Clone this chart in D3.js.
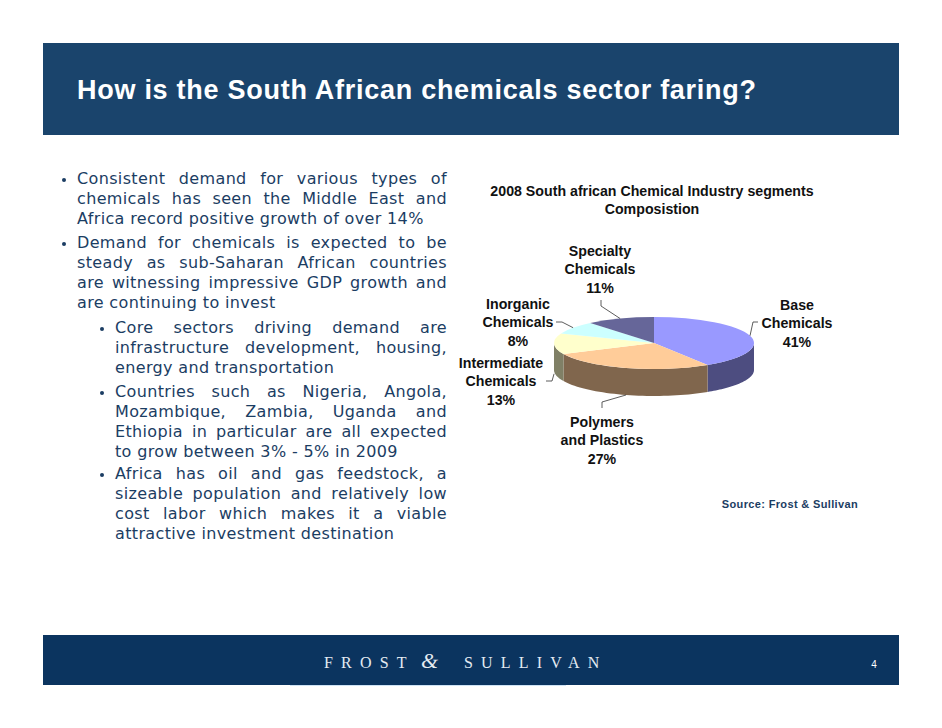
<!DOCTYPE html>
<html>
<head>
<meta charset="utf-8">
<title>South African chemicals sector</title>
<script src="https://cdn.jsdelivr.net/npm/d3@7"></script>
<style>
  html, body { margin: 0; padding: 0; background: #fff; }
  svg { display: block; }
</style>
</head>
<body>
<div id="slide"></div>
<script>
const categories = ['Base Chemicals', 'Polymers and Plastics', 'Intermediate Chemicals', 'Inorganic Chemicals', 'Specialty Chemicals']
const shares = [41, 27, 13, 8, 11]
const labelLines = [['Base', 'Chemicals'], ['Polymers', 'and Plastics'], ['Intermediate', 'Chemicals'], ['Inorganic', 'Chemicals'], ['Specialty', 'Chemicals']]

const slideTitle = 'How is the South African chemicals sector faring?'
const chartTitle = ['2008 South african Chemical Industry segments', 'Composistion']
const sourceText = 'Source: Frost & Sullivan'

// indent level, text, 1 = starts a bullet / 0 = continues / -1 = last line, not justified
const bodyLines = [
  [0, 'Consistent demand for various types of', 1],
  [0, 'chemicals has seen the Middle East and', 0],
  [0, 'Africa record positive growth of over 14%', -1],
  [0, 'Demand for chemicals is expected to be', 1],
  [0, 'steady as sub-Saharan African countries', 0],
  [0, 'are witnessing impressive GDP growth and', 0],
  [0, 'are continuing to invest', -1],
  [1, 'Core sectors driving demand are', 1],
  [1, 'infrastructure development, housing,', 0],
  [1, 'energy and transportation', -1],
  [1, 'Countries such as Nigeria, Angola,', 1],
  [1, 'Mozambique, Zambia, Uganda and', 0],
  [1, 'Ethiopia in particular are all expected', 0],
  [1, 'to grow between 3% - 5% in 2009', -1],
  [1, 'Africa has oil and gas feedstock, a', 1],
  [1, 'sizeable population and relatively low', 0],
  [1, 'cost labor which makes it a viable', 0],
  [1, 'attractive investment destination', -1]
]

const width = 942
const height = 728
const navy = '#1a446c'
const footerNavy = '#0b345f'
const textBlue = '#1b3d63'
const topColors = ['#9999ff', '#ffcc99', '#ffffcc', '#ccffff', '#666699']
const sideColors = ['#4d4d80', '#80664d', '#808066', '#668080', '#333350']
const bodyBaselines = [184, 204, 224, 248, 268, 288, 308, 333, 353, 373, 397, 417, 437, 457, 479, 499, 519, 539]

const svg = d3.select('#slide').append('svg').attr('width', width).attr('height', height)

// header and footer bands
svg.append('rect').attr('x', 43).attr('y', 43).attr('width', 856).attr('height', 92).attr('fill', navy)
svg.append('rect').attr('x', 43).attr('y', 635).attr('width', 856).attr('height', 50).attr('fill', footerNavy)
svg.append('rect').attr('x', 290).attr('y', 685).attr('width', 276).attr('height', 1).attr('fill', '#cfe3f5')

svg.append('text').attr('x', 77).attr('y', 99).attr('fill', '#fff')
  .attr('font-family', 'Liberation Sans').attr('font-weight', 700).attr('font-size', 27)
  .attr('textLength', 679).attr('lengthAdjust', 'spacing')
  .text(slideTitle)

// footer logo
const logo = svg.append('text').attr('y', 668).attr('fill', '#e4ebf2')
  .attr('font-family', 'Liberation Serif').attr('font-size', 16)
logo.append('tspan').attr('x', 324).attr('letter-spacing', 8.2).text('FROST')
logo.append('tspan').attr('x', 421).attr('font-style', 'italic').attr('font-size', 22).text('&')
logo.append('tspan').attr('x', 464).attr('letter-spacing', 8.2).text('SULLIVAN')
svg.append('text').attr('x', 874).attr('y', 668).attr('text-anchor', 'middle').attr('fill', '#fff')
  .attr('font-family', 'Liberation Sans').attr('font-size', 10).text('4')

// body text, justified by hand
const bodyRight = 447
const textLeft = [77, 115]
const bulletX = [64, 102]
const bodyGroup = svg.append('g').attr('fill', textBlue)
  .attr('font-family', 'DejaVu Sans').attr('font-size', 16)
bodyLines.forEach((d, i) => {
  const x = textLeft[d[0]]
  const y = bodyBaselines[i]
  const line = bodyGroup.append('text').attr('x', x).attr('y', y).attr('letter-spacing', 0.35).text(d[1])
  if (d[2] >= 0) {
    const gaps = d[1].split(' ').length - 1
    const extra = (bodyRight - x - line.node().getComputedTextLength()) / gaps
    line.attr('word-spacing', extra)
  }
  if (d[2] === 1) {
    bodyGroup.append('circle').attr('cx', bulletX[d[0]]).attr('cy', y - 4).attr('r', 2).attr('fill', textBlue)
  }
})

/* ----- pie ----- */
const cx = 654
const cy = 343
const rx = 100
const ry = 26
const depth = 27

const pie = d3.pie().sort(null)
const slices = pie(shares)
const arc = d3.arc().innerRadius(0).outerRadius(rx)
const tilt = ry / rx

const px = a => cx + rx * Math.sin(a)
const py = a => cy - ry * Math.cos(a)

const chart = svg.append('g')

// front wall, only the part between 90 and 270 degrees shows
slices.forEach((s, i) => {
  const a0 = Math.max(s.startAngle, Math.PI / 2)
  const a1 = Math.min(s.endAngle, Math.PI * 1.5)
  if (a1 <= a0) return
  const p = d3.path()
  p.moveTo(px(a0), py(a0))
  const n = 40
  d3.range(n + 1).forEach(k => {
    const a = a0 + (a1 - a0) * k / n
    p.lineTo(px(a), py(a))
  })
  d3.range(n + 1).forEach(k => {
    const a = a1 - (a1 - a0) * k / n
    p.lineTo(px(a), py(a) + depth)
  })
  p.closePath()
  chart.append('path').attr('d', p.toString()).attr('fill', sideColors[i])
})

// top face
chart.append('g')
  .attr('transform', `translate(${cx},${cy}) scale(1,${tilt})`)
  .selectAll('path')
  .data(slices)
  .join('path')
  .attr('class', (d, i) => categories[i].split(' ')[0].toLowerCase())
  .attr('d', arc)
  .attr('fill', (d, i) => topColors[i])

/* ----- labels ----- */
const labelPos = [
  { x: 797, y: 309.5, elbow: [753, 322], end: [758, 322] },
  { x: 602, y: 426.5, elbow: [602, 402], end: [602, 408] },
  { x: 501, y: 367.5, elbow: [552, 381], end: [546, 381] },
  { x: 518, y: 308.5, elbow: [562, 322], end: [556, 322] },
  { x: 600, y: 255.5, elbow: [601, 306], end: [601, 300] }
]
const chartFont = g => g.attr('font-family', 'Liberation Sans').attr('font-weight', 700)
  .attr('font-size', 14.2).attr('fill', '#111').attr('text-anchor', 'middle')

const labelGroup = svg.append('g').call(chartFont)
const leader = d3.line()
slices.forEach((s, i) => {
  const mid = (s.startAngle + s.endAngle) / 2
  const front = Math.cos(mid) < 0
  const isWall = i === 2
  const start = [px(mid), py(mid) + (front && !isWall ? depth : 0) + (isWall ? 30 : 0)]
  chart.append('path')
    .attr('d', leader([start, labelPos[i].elbow, labelPos[i].end]))
    .attr('fill', 'none').attr('stroke', '#333').attr('stroke-width', 0.8)
  const t = labelGroup.append('text')
  labelLines[i].concat(shares[i] + '%').forEach((line, k) => {
    t.append('tspan').attr('x', labelPos[i].x).attr('y', labelPos[i].y + k * 18.6).text(line)
  })
})

svg.append('g').call(chartFont).selectAll('text')
  .data(chartTitle)
  .join('text')
  .attr('x', 652)
  .attr('y', (d, i) => 195.5 + i * 18)
  .text(d => d)

svg.append('text').attr('x', 858).attr('y', 508).attr('text-anchor', 'end').attr('fill', textBlue)
  .attr('font-family', 'Liberation Sans').attr('font-weight', 700).attr('font-size', 11)
  .attr('letter-spacing', 0.35).text(sourceText)
</script>
</body>
</html>
